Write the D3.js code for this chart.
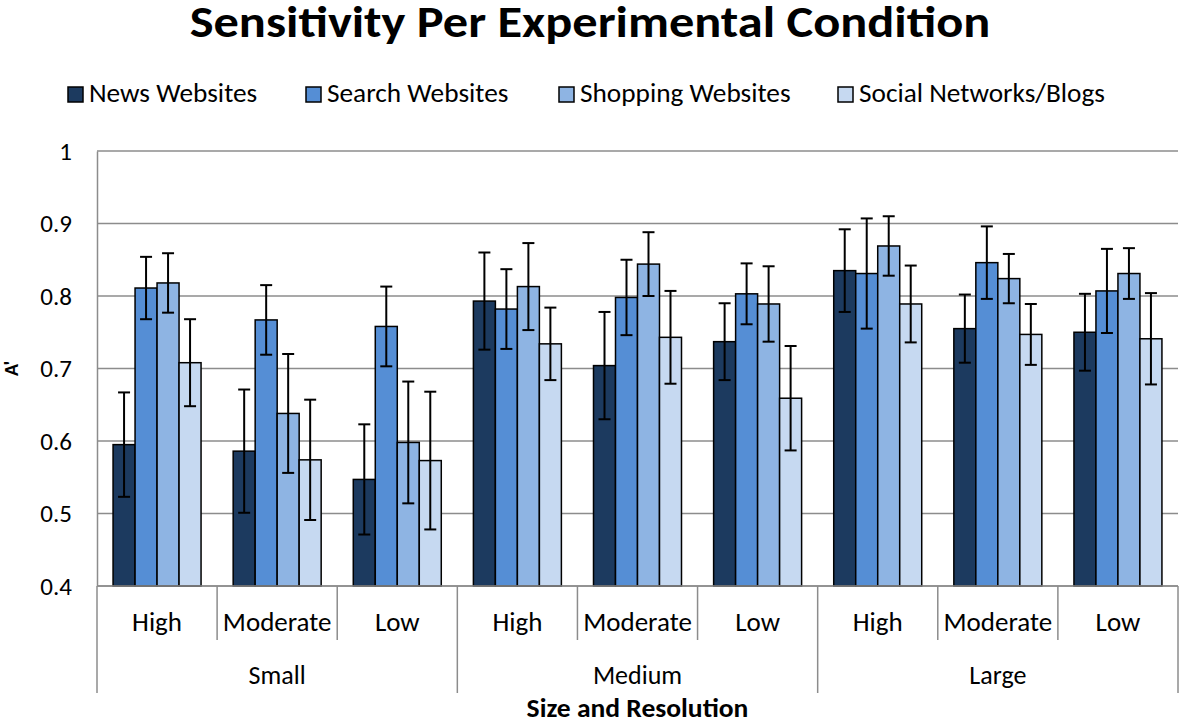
<!DOCTYPE html>
<html>
<head>
<meta charset="utf-8">
<script src="https://cdn.jsdelivr.net/npm/d3@7"></script>
<style>
  body { margin: 0; background: #fff; }
  svg text { font-family: Calibri, Carlito, 'Open Sans', sans-serif; fill: #000; }
</style>
</head>
<body>
<div class="container"></div>
<script>
const sizes = ['Small', 'Medium', 'Large'];
const resolutions = ['High', 'Moderate', 'Low'];
const seriesNames = ['News Websites', 'Search Websites', 'Shopping Websites', 'Social Networks/Blogs'];
const seriesColors = ['#1c3a5f', '#558ed5', '#8eb4e3', '#c6d9f1'];
const yTicks = [0.4, 0.5, 0.6, 0.7, 0.8, 0.9, 1];

// values in order Small High, Small Moderate, Small Low, Medium High, ... Large Low
const newsValues = [0.595, 0.586, 0.547, 0.793, 0.704, 0.737, 0.835, 0.755, 0.750];
const newsErrors = [0.072, 0.085, 0.076, 0.067, 0.074, 0.053, 0.057, 0.047, 0.053];
const searchValues = [0.811, 0.767, 0.758, 0.782, 0.798, 0.803, 0.831, 0.846, 0.807];
const searchErrors = [0.043, 0.048, 0.055, 0.055, 0.052, 0.042, 0.076, 0.050, 0.058];
const shoppingValues = [0.818, 0.638, 0.598, 0.813, 0.844, 0.789, 0.869, 0.824, 0.831];
const shoppingErrors = [0.041, 0.082, 0.084, 0.060, 0.044, 0.052, 0.041, 0.034, 0.035];
const socialValues = [0.708, 0.574, 0.573, 0.734, 0.743, 0.659, 0.789, 0.747, 0.741];
const socialErrors = [0.060, 0.083, 0.095, 0.050, 0.064, 0.072, 0.053, 0.042, 0.063];

const allValues = [newsValues, searchValues, shoppingValues, socialValues];
const allErrors = [newsErrors, searchErrors, shoppingErrors, socialErrors];

let width = 1181;
let height = 727;
let margin = { top: 151, right: 3, bottom: 141, left: 97 };

let svg = d3
  .select('.container')
  .append('svg')
  .attr('width', width)
  .attr('height', height);

// text helper, the source glyphs are a bit wider than Carlito
function addText(parent, x, y, str, size, opts) {
  opts = opts || {};
  let sx = opts.sx || 1;
  let t = parent
    .append('text')
    .attr('transform', 'translate(' + x + ',' + y + ') scale(' + sx + ',1)')
    .attr('text-anchor', opts.anchor || 'middle')
    .style('font-size', size + 'px')
    .text(str);
  if (opts.bold) t.style('font-weight', 'bold');
  return t;
}

// condition keys
let conditions = [];
sizes.forEach((s) => resolutions.forEach((r) => conditions.push(s + '|' + r)));

let x0 = d3
  .scaleBand()
  .domain(conditions)
  .range([margin.left, width - margin.right]);

let x1 = d3
  .scaleBand()
  .domain(seriesNames)
  .range([0, x0.bandwidth()])
  .paddingOuter(0.73);

let y = d3
  .scaleLinear()
  .domain([0.4, 1])
  .range([height - margin.bottom, margin.top]);

// gridlines
svg
  .append('g')
  .selectAll('line')
  .data(yTicks)
  .enter()
  .append('line')
  .attr('x1', margin.left)
  .attr('x2', width - margin.right)
  .attr('y1', (d) => y(d))
  .attr('y2', (d) => y(d))
  .attr('stroke', '#8c8c8c')
  .attr('stroke-width', 1.5);

// y axis
let yAxis = svg
  .append('g')
  .attr('transform', 'translate(' + margin.left + ',0)')
  .call(d3.axisLeft(y).tickValues(yTicks).tickSize(0).tickPadding(25).tickFormat((d) => d3.format('')(d)));
yAxis.select('.domain').attr('stroke', '#8c8c8c').attr('stroke-width', 1.5);
yAxis.selectAll('text').style('font-size', '25px');

svg
  .append('text')
  .attr('transform', 'translate(18,' + y(0.7) + ') rotate(-90)')
  .attr('text-anchor', 'middle')
  .style('font-size', '20px')
  .style('font-weight', 'bold')
  .text("A'");

// bars
let data = [];
conditions.forEach((c, i) => {
  seriesNames.forEach((s, j) => {
    data.push({ cond: c, series: s, value: allValues[j][i], err: allErrors[j][i], color: seriesColors[j] });
  });
});

let bars = svg.append('g');
bars
  .selectAll('rect')
  .data(data)
  .enter()
  .append('rect')
  .attr('x', (d) => x0(d.cond) + x1(d.series))
  .attr('y', (d) => y(d.value))
  .attr('width', x1.bandwidth())
  .attr('height', (d) => y(0.4) - y(d.value))
  .attr('fill', (d) => d.color)
  .attr('stroke', '#000')
  .attr('stroke-width', 1.5);

// error bars
let errG = svg.append('g').attr('stroke', '#000').attr('stroke-width', 2);
data.forEach((d) => {
  let cx = x0(d.cond) + x1(d.series) + x1.bandwidth() / 2;
  errG.append('line').attr('x1', cx).attr('x2', cx).attr('y1', y(d.value + d.err)).attr('y2', y(d.value - d.err));
  errG.append('line').attr('x1', cx - 6).attr('x2', cx + 6).attr('y1', y(d.value + d.err)).attr('y2', y(d.value + d.err));
  errG.append('line').attr('x1', cx - 6).attr('x2', cx + 6).attr('y1', y(d.value - d.err)).attr('y2', y(d.value - d.err));
});

// x axis (two levels)
let axisY = y(0.4);
let xg = svg.append('g');
xg.append('line')
  .attr('x1', margin.left)
  .attr('x2', width - margin.right)
  .attr('y1', axisY)
  .attr('y2', axisY)
  .attr('stroke', '#8c8c8c')
  .attr('stroke-width', 1.5);

conditions.forEach((c, i) => {
  let left = x0(c);
  let long = i % 3 === 0;
  xg.append('line')
    .attr('x1', left)
    .attr('x2', left)
    .attr('y1', axisY)
    .attr('y2', long ? 693 : 640)
    .attr('stroke', '#8c8c8c')
    .attr('stroke-width', 1.5);
  addText(xg, left + x0.bandwidth() / 2, 631, c.split('|')[1], 27);
});
xg.append('line')
  .attr('x1', width - margin.right)
  .attr('x2', width - margin.right)
  .attr('y1', axisY)
  .attr('y2', 693)
  .attr('stroke', '#8c8c8c')
  .attr('stroke-width', 1.5);

sizes.forEach((s) => {
  let l = x0(s + '|' + resolutions[0]);
  let r = x0(s + '|' + resolutions[2]) + x0.bandwidth();
  addText(xg, (l + r) / 2, 684, s, 26);
});

addText(svg, (margin.left + width - margin.right) / 2, 717, 'Size and Resolution', 26, { bold: true, sx: 1.06 });

// title
addText(svg, 590, 37, 'Sensitivity Per Experimental Condition', 45, { bold: true, sx: 1.12 });

// legend
let legendX = [68, 306, 559, 838];
let legend = svg
  .append('g')
  .selectAll('g')
  .data(seriesNames)
  .enter()
  .append('g')
  .attr('transform', (d, i) => 'translate(' + legendX[i] + ',87)');
legend
  .append('rect')
  .attr('width', 15)
  .attr('height', 15)
  .attr('fill', (d, i) => seriesColors[i])
  .attr('stroke', '#000')
  .attr('stroke-width', 1.5);
legend.each(function (d) {
  addText(d3.select(this), 21, 15, d, 26, { anchor: 'start', sx: 1.05 });
});
</script>
</body>
</html>
